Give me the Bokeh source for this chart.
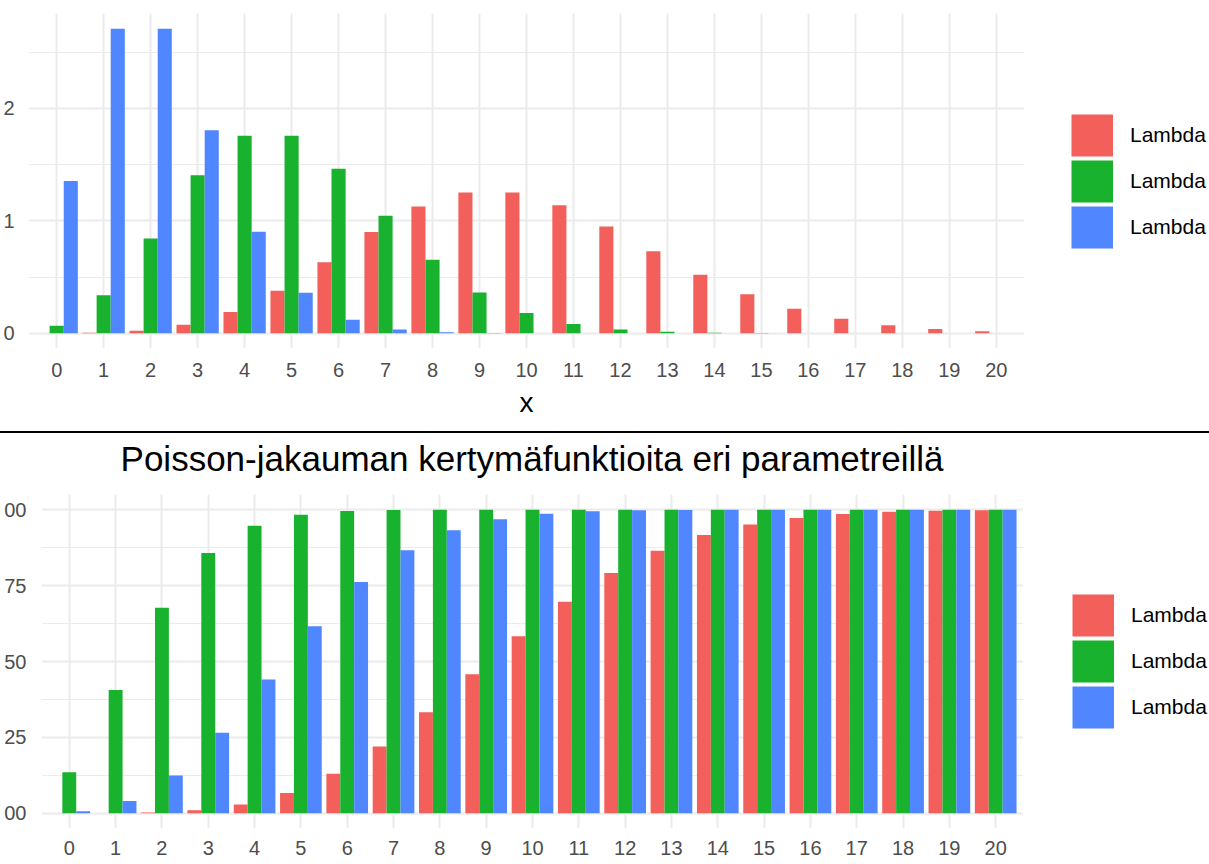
from bokeh.plotting import figure
from bokeh.models import (FixedTicker, Legend, LegendItem, ColumnDataSource,
                          Range1d, Div)
from bokeh.layouts import column, row
from bokeh.transform import dodge
from bokeh.embed import file_html
from bokeh.resources import INLINE

# ---------------- data ----------------
x_values = list(range(21))
x_labels = [str(v) for v in x_values]

# top panel: probability mass
pmf_lambda10 = [0.0000, 0.0005, 0.0023, 0.0076, 0.0189, 0.0378, 0.0631,
                0.0901, 0.1126, 0.1251, 0.1251, 0.1137, 0.0948, 0.0729,
                0.0521, 0.0347, 0.0217, 0.0128, 0.0071, 0.0037, 0.0019]
pmf_lambda5 = [0.0067, 0.0337, 0.0842, 0.1404, 0.1755, 0.1755, 0.1462,
               0.1044, 0.0653, 0.0363, 0.0181, 0.0082, 0.0034, 0.0013,
               0.0005, 0.0002, 0.0000, 0.0000, 0.0000, 0.0000, 0.0000]
pmf_lambda2 = [0.1353, 0.2707, 0.2707, 0.1804, 0.0902, 0.0361, 0.0120,
               0.0034, 0.0009, 0.0002, 0.0000, 0.0000, 0.0000, 0.0000,
               0.0000, 0.0000, 0.0000, 0.0000, 0.0000, 0.0000, 0.0000]

# bottom panel: cumulative distribution
cdf_lambda10 = [0.0000, 0.0005, 0.0028, 0.0103, 0.0293, 0.0671, 0.1301,
                0.2202, 0.3328, 0.4579, 0.5830, 0.6968, 0.7916, 0.8645,
                0.9165, 0.9513, 0.9730, 0.9857, 0.9928, 0.9965, 0.9984]
cdf_lambda2 = [0.1353, 0.4060, 0.6767, 0.8571, 0.9473, 0.9834, 0.9955,
               0.9989, 0.9998, 1.0000, 1.0000, 1.0000, 1.0000, 1.0000,
               1.0000, 1.0000, 1.0000, 1.0000, 1.0000, 1.0000, 1.0000]
cdf_lambda5 = [0.0067, 0.0404, 0.1247, 0.2650, 0.4405, 0.6160, 0.7622,
               0.8666, 0.9319, 0.9682, 0.9863, 0.9945, 0.9980, 0.9993,
               0.9998, 0.9999, 1.0000, 1.0000, 1.0000, 1.0000, 1.0000]

# legend texts as far as they are visible in the picture
top_series_names = ["Lambda", "Lambda", "Lambda"]
bottom_series_names = ["Lambda", "Lambda", "Lambda"]
series_colors = ["#F3605B", "#19B22F", "#5086FF"]

top_y_ticks = [0.0, 0.1, 0.2]
top_y_minor = [0.05, 0.15, 0.25]
top_y_labels = ["0", "1", "2"]

bottom_y_ticks = [0.0, 0.25, 0.5, 0.75, 1.0]
bottom_y_minor = [0.125, 0.375, 0.625, 0.875]
bottom_y_labels = ["00", "25", "50", "75", "00"]

bottom_title = "Poisson-jakauman kertymäfunktioita eri parametreillä"
top_x_title = "x"

FONT = "Liberation Sans"
GRID = "#EBEBEB"
TICK_TEXT = "#4D4D4D"
KEY = 42


def make_panel(series, width, height, b_top, b_bottom, b_left, y_max,
               y_ticks, y_minor, y_labels, y_standoff, x_standoff,
               xlabel=None):
    pad = 0.05 * y_max
    p = figure(width=width, height=height, x_range=Range1d(-0.6, 20.6),
               y_range=Range1d(-pad, y_max + pad), output_backend="svg",
               toolbar_location=None, min_border_top=b_top,
               min_border_bottom=b_bottom, min_border_left=b_left,
               min_border_right=0, margin=0, frame_align=False)
    p.outline_line_color = None
    p.background_fill_color = "white"
    p.border_fill_color = "white"

    data = dict(x=x_values)
    for i, s in enumerate(series):
        data[f"s{i}"] = s
    src = ColumnDataSource(data)
    offsets = [-0.3, 0.0, 0.3]
    for i in range(len(series)):
        p.vbar(x=dodge("x", offsets[i], range=p.x_range), top=f"s{i}",
               bottom=0, width=0.3, source=src,
               fill_color=series_colors[i], line_color=None)

    xa = p.xaxis[0]
    xa.ticker = FixedTicker(ticks=x_values)
    xa.major_label_overrides = {v: l for v, l in zip(x_values, x_labels)}
    xa.axis_line_color = None
    xa.major_tick_line_color = None
    xa.minor_tick_line_color = None
    xa.major_tick_out = 0
    xa.minor_tick_out = 0
    xa.major_label_standoff = x_standoff
    xa.major_label_text_font = FONT
    xa.major_label_text_font_size = "20px"
    xa.major_label_text_color = TICK_TEXT
    if xlabel:
        xa.axis_label = xlabel
        xa.axis_label_text_font = FONT
        xa.axis_label_text_font_size = "28px"
        xa.axis_label_text_font_style = "normal"
        xa.axis_label_text_color = "black"
        xa.axis_label_standoff = 7

    ya = p.yaxis[0]
    ya.ticker = FixedTicker(ticks=y_ticks, minor_ticks=y_minor)
    ya.major_label_overrides = {v: l for v, l in zip(y_ticks, y_labels)}
    ya.axis_line_color = None
    ya.major_tick_line_color = None
    ya.minor_tick_line_color = None
    ya.major_tick_out = 0
    ya.minor_tick_out = 0
    ya.major_label_standoff = y_standoff
    ya.major_label_text_font = FONT
    ya.major_label_text_font_size = "20px"
    ya.major_label_text_color = TICK_TEXT

    p.xgrid.grid_line_color = GRID
    p.xgrid.grid_line_width = 2
    p.ygrid.grid_line_color = GRID
    p.ygrid.grid_line_width = 2
    p.ygrid.minor_grid_line_color = GRID
    p.ygrid.minor_grid_line_width = 1.2
    return p


def make_legend(names, width, height, loc):
    q = figure(width=width, height=height, x_range=Range1d(0, 1),
               y_range=Range1d(0, 1), x_axis_type=None, y_axis_type=None,
               output_backend="svg", toolbar_location=None, min_border=0,
               margin=0, frame_align=False)
    q.outline_line_color = None
    q.background_fill_color = "white"
    q.border_fill_color = "white"
    keys = []
    for c in series_colors:
        # a thick butt-capped line gives a full square swatch in the legend
        keys.append(q.line(x=[0], y=[0], line_width=KEY, line_color=c,
                           line_cap="butt"))
    legend = Legend(items=[LegendItem(label=n, renderers=[k])
                           for n, k in zip(names, keys)],
                    location=loc, orientation="vertical",
                    glyph_width=KEY, glyph_height=46, spacing=0,
                    label_standoff=17, label_height=46, padding=0, margin=0,
                    border_line_color=None, background_fill_alpha=0,
                    label_text_font=FONT, label_text_font_size="21px",
                    label_text_color="black")
    q.add_layout(legend)
    return q


p1 = make_panel([pmf_lambda10, pmf_lambda5, pmf_lambda2], width=1024,
                height=431, b_top=13, b_bottom=83, b_left=28,
                y_max=max(pmf_lambda2 + pmf_lambda5 + pmf_lambda10),
                y_ticks=top_y_ticks, y_minor=top_y_minor,
                y_labels=top_y_labels, y_standoff=14, x_standoff=14,
                xlabel=top_x_title)
l1 = make_legend(top_series_names, 185, 431, (47, 181))

sep = Div(text="", width=1209, height=2, margin=0,
          styles={"background-color": "#000000"})

title_html = (
    '<div style="width:982px;margin-left:41px;padding-top:6px;'
    "text-align:center;font-family:'Liberation Sans',sans-serif;"
    'font-size:35px;line-height:40px;font-weight:normal;color:#000000;'
    'white-space:nowrap;">' + bottom_title + '</div>'
)
title_div = Div(text=title_html, width=1209, height=61, margin=0)

p2 = make_panel([cdf_lambda10, cdf_lambda2, cdf_lambda5], width=1023,
                height=370, b_top=0, b_bottom=36, b_left=41, y_max=1.0,
                y_ticks=bottom_y_ticks, y_minor=bottom_y_minor,
                y_labels=bottom_y_labels, y_standoff=15, x_standoff=12)
l2 = make_legend(bottom_series_names, 186, 370, (49, 134))

layout = column(row(p1, l1, spacing=0), sep, title_div,
                row(p2, l2, spacing=0), spacing=0)

with open("out.html", "w", encoding="utf-8") as f:
    f.write(file_html(layout, INLINE))
